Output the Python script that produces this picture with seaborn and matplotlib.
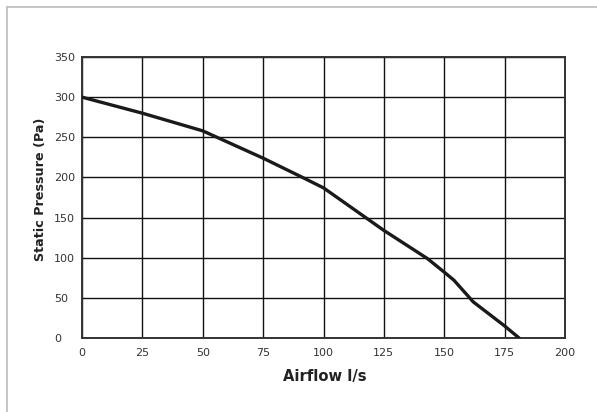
import numpy as np
import pandas as pd
import matplotlib
matplotlib.use("Agg")
import matplotlib.pyplot as plt
import seaborn as sns
from matplotlib.lines import Line2D

# fan curve
airflow = [0, 25, 50, 75, 92, 100, 125, 143, 150, 154, 162, 175, 181]
pressure = [300, 280, 258, 224, 199, 187, 134, 99, 82, 72, 45, 15, 0]
x_ticks = [0, 25, 50, 75, 100, 125, 150, 175, 200]
y_ticks = [0, 50, 100, 150, 200, 250, 300, 350]

df = pd.DataFrame({'Airflow': airflow, 'Pressure': pressure})

sns.set_theme(style='white')
plt.rcParams['font.family'] = ['DejaVu Sans']

fig = plt.figure(figsize=(5.97, 4.12), dpi=100)
ax = fig.add_axes([82/597, 1-338/412, (565-82)/597, (338-57)/412])

sns.lineplot(data=df, x='Airflow', y='Pressure', color='#1a1a1a', linewidth=2.4,
             ax=ax, zorder=5, sort=False)

ax.set_xlim(0, 200)
ax.set_ylim(0, 350)
ax.set_xticks(x_ticks)
ax.set_yticks(y_ticks)
ax.grid(True, color='#111111', linewidth=1.0)
for s in ax.spines.values():
    s.set_color('#333333')
    s.set_linewidth(1.4)
ax.tick_params(axis='both', length=0, labelsize=8, colors='#333333')
ax.tick_params(axis='x', pad=7)
ax.tick_params(axis='y', pad=20)
for lab in ax.get_yticklabels():
    lab.set_horizontalalignment('left')

ax.set_xlabel('Airflow l/s', fontsize=10.6, fontweight='bold', color='#222222')
ax.set_ylabel('Static Pressure (Pa)', fontsize=9.2, fontweight='bold', color='#222222')
ax.xaxis.set_label_coords(0.502, -0.112)
ax.yaxis.set_label_coords(-0.072, 0.53)

# light frame at the top and left of the image
fig.add_artist(Line2D([7/597, 7/597], [0, 1-7/412], transform=fig.transFigure, color='#bbbbbb', lw=1.2))
fig.add_artist(Line2D([7/597, 1], [1-7/412, 1-7/412], transform=fig.transFigure, color='#bbbbbb', lw=1.2))

fig.savefig('out.png', dpi=100)
